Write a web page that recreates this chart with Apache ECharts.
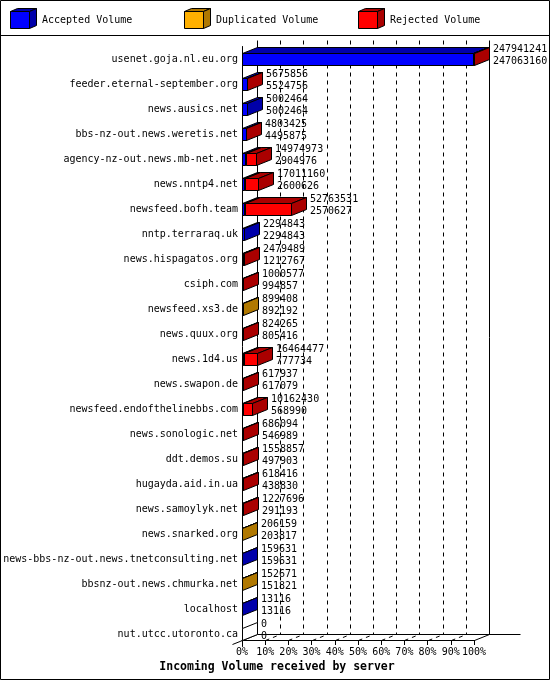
<!DOCTYPE html>
<html><head><meta charset="utf-8">
<script src="https://cdn.jsdelivr.net/npm/echarts@6/dist/echarts.min.js"></script>
<style>html,body{margin:0;padding:0;background:#fff}#c{width:550px;height:680px}</style>
</head><body><div id="c"></div>
<script>
const servers = [
  'usenet.goja.nl.eu.org','feeder.eternal-september.org','news.ausics.net','bbs-nz-out.news.weretis.net',
  'agency-nz-out.news.mb-net.net','news.nntp4.net','newsfeed.bofh.team','nntp.terraraq.uk',
  'news.hispagatos.org','csiph.com','newsfeed.xs3.de','news.quux.org','news.1d4.us','news.swapon.de',
  'newsfeed.endofthelinebbs.com','news.sonologic.net','ddt.demos.su','hugayda.aid.in.ua',
  'news.samoylyk.net','news.snarked.org','news-bbs-nz-out.news.tnetconsulting.net',
  'bbsnz-out.news.chmurka.net','localhost','nut.utcc.utoronto.ca'
];
const totalVolume = [247941241,5675856,5002464,4803425,14974973,17011160,52763531,2294843,2479489,1000577,899408,824265,16464477,617937,10162430,686094,1558857,618416,1227696,206159,159631,152671,13116,0];
const acceptedVolume = [247063160,5524756,5002464,4495875,2904976,2600626,2570627,2294843,1212767,994857,892192,805416,777734,617079,568990,546989,497903,438830,291193,203817,159631,151821,13116,0];
const duplicatedVolume = [300000,50000,0,20000,1000000,100000,200000,0,100000,0,7216,0,1500000,0,0,0,0,0,0,2342,0,850,0,0];
const rejectedVolume = [578081,101100,0,287550,11069997,14310534,49992904,0,1166722,5720,0,18849,14186743,858,9593440,139105,1060954,179586,936503,0,0,0,0,0];
const tickPercents = [0,10,20,30,40,50,60,70,80,90,100];
const legendNames = ['Accepted Volume','Duplicated Volume','Rejected Volume'];
const frontColors = ['#0000ff','#ffb000','#ff0000'];
const darkColors = ['#0000aa','#b07800','#aa0000'];
const axisTitle = 'Incoming Volume received by server';

const maxVolume = Math.max(...totalVolume);
const pct = v => v / maxVolume * 100;
const DX = 15, DY = 6, HALF = 6;
const FONT = '10px "DejaVu Sans Mono", monospace';
const STROKE = {stroke:'#000', lineWidth:1};

const barData = servers.map((s, i) => [i, pct(acceptedVolume[i]), pct(duplicatedVolume[i]), pct(rejectedVolume[i]),
  totalVolume[i], acceptedVolume[i], acceptedVolume[i], duplicatedVolume[i], rejectedVolume[i]]);

function poly(points, fill) {
  return {type:'polygon', shape:{points: points.map(p => [p[0] + 0.5, p[1] + 0.5])}, style:Object.assign({fill: fill}, STROKE)};
}
function line(x1, y1, x2, y2, dashed) {
  return {type:'line', shape:{x1:x1 + 0.5, y1:y1 + 0.5, x2:x2 + 0.5, y2:y2 + 0.5},
    style:{stroke:'#000', lineWidth:1, lineDash: dashed ? [4, 4] : null}};
}

function renderBar(params, api) {
  const i = api.value(0);
  const segs = [api.value(1), api.value(2), api.value(3)];
  const raw = [api.value(6), api.value(7), api.value(8)];
  const c0 = api.coord([0, i]);
  const x0 = Math.round(c0[0]);
  const yc = Math.round(c0[1]);
  const yTop = yc - HALF, yBot = yc + HALF;
  const edges = [x0];
  let acc = 0;
  for (let k = 0; k < 3; k++) { acc += segs[k]; edges.push(Math.round(api.coord([acc, i])[0])); }
  const children = [];
  let last = -1;
  for (let k = 0; k < 3; k++) if (raw[k] > 0) last = k;
  for (let k = 0; k < 3; k++) {
    if (raw[k] <= 0) continue;
    const xs = edges[k], xe = edges[k + 1];
    children.push(poly([[xs, yTop], [xe, yTop], [xe, yBot], [xs, yBot]], frontColors[k]));
    children.push(poly([[xs, yTop], [xe, yTop], [xe + DX, yTop - DY], [xs + DX, yTop - DY]], darkColors[k]));
  }
  const xEnd = edges[3];
  children.push(poly([[xEnd, yTop], [xEnd + DX, yTop - DY], [xEnd + DX, yBot - DY], [xEnd, yBot]],
    last >= 0 ? darkColors[last] : '#fff'));
  children.push({type:'text', style:{text: api.value(4) + '\n' + api.value(5), x: xEnd + DX + 4, y: yc - 4,
    verticalAlign:'middle', align:'left', font: FONT, lineHeight: 12, fill:'#000'}});
  return {type:'group', children};
}

function renderWall(params, api) {
  const v = api.value(0);
  const cs = params.coordSys;
  const x = Math.round(api.coord([v, 0])[0]);
  const yFront = Math.round(cs.y + cs.height) - 7;
  const yBack = yFront - DY;
  const yTopBack = Math.round(cs.y) - 7;
  const edge = (v === tickPercents[0] || v === tickPercents[tickPercents.length - 1]);
  const children = [
    line(x + DX, yTopBack, x + DX, yBack, !edge),
    line(x, yFront, x + DX, yBack, !edge)
  ];
  if (v === tickPercents[0]) {
    const xr = Math.round(api.coord([tickPercents[tickPercents.length - 1], 0])[0]);
    children.push(line(x + DX, yBack, xr + DX + 31, yBack, false));
    children.push(line(x - 10, yFront + 4, x, yFront, false));
  }
  return {type:'group', children};
}

function cube(x, y, k) {
  return [
    {type:'polygon', shape:{points:[[x+0.5,y+0.5],[x+19.5,y+0.5],[x+19.5,y+17.5],[x+0.5,y+17.5]]}, style:{fill:frontColors[k], stroke:'#000', lineWidth:1}},
    {type:'polygon', shape:{points:[[x+0.5,y+0.5],[x+19.5,y+0.5],[x+26.5,y-2.5],[x+7.5,y-2.5]]}, style:{fill:darkColors[k], stroke:'#000', lineWidth:1}},
    {type:'polygon', shape:{points:[[x+19.5,y+0.5],[x+26.5,y-2.5],[x+26.5,y+14.5],[x+19.5,y+17.5]]}, style:{fill:darkColors[k], stroke:'#000', lineWidth:1}},
    {type:'text', style:{text: legendNames[k], x: x + 32, y: y + 9, verticalAlign:'middle', font: FONT, fill:'#000'}}
  ];
}

const legendX = [10, 184, 358];
const graphics = [
  {type:'rect', shape:{x:0.5, y:0.5, width:549, height:679}, style:{fill:'none', stroke:'#000', lineWidth:1}, z:100},
  {type:'line', shape:{x1:0, y1:35.5, x2:550, y2:35.5}, style:{stroke:'#000', lineWidth:1}},
  {type:'text', style:{text: axisTitle, x: 277, y: 667, align:'center', verticalAlign:'middle',
    font:'bold 11.5px "DejaVu Sans Mono", monospace', fill:'#000'}}
];
legendX.forEach((x, k) => cube(x, 11, k).forEach(g => graphics.push(g)));

const chart = echarts.init(document.getElementById('c'), null, {renderer:'canvas'});
chart.setOption({
  backgroundColor:'#fff',
  animation:false,
  grid:{left:242, right:76, top:46.5, bottom:33.5, containLabel:false, outerBoundsMode:'none'},
  xAxis:{type:'value', min:0, max:100, interval:10, offset:-6.5,
    axisLine:{show:true, lineStyle:{color:'#000', width:1}},
    axisTick:{show:true, length:5, lineStyle:{color:'#000'}},
    axisLabel:{formatter: v => v + '%', margin:7, color:'#000', fontFamily:'DejaVu Sans Mono', fontSize:10},
    splitLine:{show:false}},
  yAxis:{type:'category', data: servers, inverse:true,
    axisLine:{show:true, lineStyle:{color:'#000', width:1}},
    axisTick:{show:false},
    axisLabel:{margin:4, color:'#000', fontFamily:'DejaVu Sans Mono', fontSize:10, interval:0},
    splitLine:{show:false}},
  series:[
    {type:'custom', name:'wall', renderItem: renderWall, data: tickPercents.map(v => [v]), encode:{x:0}, clip:false, silent:true, z:1},
    {type:'custom', name:'volume', renderItem: renderBar, data: barData, encode:{x:[1], y:0}, clip:false, silent:true, z:3}
  ],
  graphic: graphics
});
</script></body></html>
